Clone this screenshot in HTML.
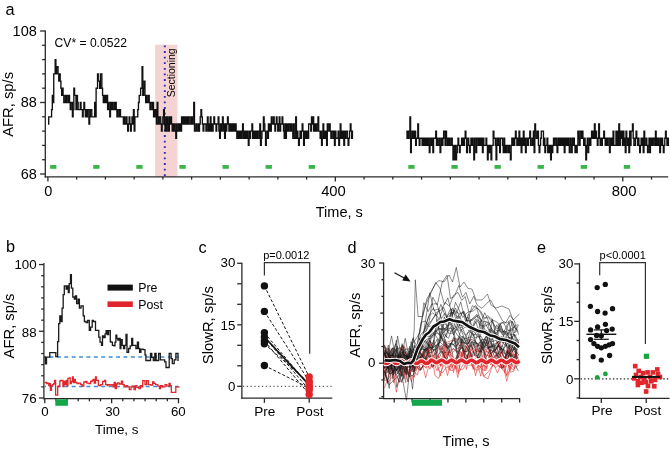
<!DOCTYPE html>
<html><head><meta charset="utf-8"><style>
html,body{margin:0;padding:0;background:#fff;}
svg{display:block;}
text{font-family:"Liberation Sans", sans-serif;}
</style></head><body>
<svg width="670" height="449" viewBox="0 0 670 449">
<rect width="670" height="449" fill="#fff"/>
<g style="will-change:transform">
<text x="5.5" y="14.5" font-size="16.3" text-anchor="start" fill="#000">a</text>
<rect x="155.1" y="44.7" width="22.3" height="132.2" fill="#f6d3d3"/>
<line x1="164.8" y1="45.5" x2="164.8" y2="177" stroke="#2c2cb4" stroke-width="1.9" stroke-dasharray="1.8 3.8"/>
<text x="175.4" y="72.8" font-size="10.5" text-anchor="middle" fill="#000" transform="rotate(-90 175.4 72.8)">Sectioning</text>
<line x1="45.3" y1="30.4" x2="45.3" y2="177.5" stroke="#2a2a2a" stroke-width="1.3"/>
<line x1="44.7" y1="176.9" x2="668.2" y2="176.9" stroke="#2a2a2a" stroke-width="1.3"/>
<line x1="40.1" y1="174" x2="45.3" y2="174" stroke="#2a2a2a" stroke-width="1.3"/>
<line x1="42.1" y1="159.7" x2="45.3" y2="159.7" stroke="#2a2a2a" stroke-width="1.3"/>
<line x1="42.1" y1="145.4" x2="45.3" y2="145.4" stroke="#2a2a2a" stroke-width="1.3"/>
<line x1="42.1" y1="131.1" x2="45.3" y2="131.1" stroke="#2a2a2a" stroke-width="1.3"/>
<line x1="42.1" y1="116.8" x2="45.3" y2="116.8" stroke="#2a2a2a" stroke-width="1.3"/>
<line x1="40.1" y1="102.5" x2="45.3" y2="102.5" stroke="#2a2a2a" stroke-width="1.3"/>
<line x1="42.1" y1="88.2" x2="45.3" y2="88.2" stroke="#2a2a2a" stroke-width="1.3"/>
<line x1="42.1" y1="73.9" x2="45.3" y2="73.9" stroke="#2a2a2a" stroke-width="1.3"/>
<line x1="42.1" y1="59.6" x2="45.3" y2="59.6" stroke="#2a2a2a" stroke-width="1.3"/>
<line x1="42.1" y1="45.3" x2="45.3" y2="45.3" stroke="#2a2a2a" stroke-width="1.3"/>
<line x1="40.1" y1="31" x2="45.3" y2="31" stroke="#2a2a2a" stroke-width="1.3"/>
<line x1="47.9" y1="176.9" x2="47.9" y2="181.6" stroke="#2a2a2a" stroke-width="1.3"/>
<line x1="76.64" y1="176.9" x2="76.64" y2="179.6" stroke="#2a2a2a" stroke-width="1.3"/>
<line x1="105.39" y1="176.9" x2="105.39" y2="179.6" stroke="#2a2a2a" stroke-width="1.3"/>
<line x1="134.13" y1="176.9" x2="134.13" y2="179.6" stroke="#2a2a2a" stroke-width="1.3"/>
<line x1="162.88" y1="176.9" x2="162.88" y2="179.6" stroke="#2a2a2a" stroke-width="1.3"/>
<line x1="191.62" y1="176.9" x2="191.62" y2="179.6" stroke="#2a2a2a" stroke-width="1.3"/>
<line x1="220.36" y1="176.9" x2="220.36" y2="179.6" stroke="#2a2a2a" stroke-width="1.3"/>
<line x1="249.11" y1="176.9" x2="249.11" y2="179.6" stroke="#2a2a2a" stroke-width="1.3"/>
<line x1="277.85" y1="176.9" x2="277.85" y2="179.6" stroke="#2a2a2a" stroke-width="1.3"/>
<line x1="306.6" y1="176.9" x2="306.6" y2="179.6" stroke="#2a2a2a" stroke-width="1.3"/>
<line x1="335.34" y1="176.9" x2="335.34" y2="181.6" stroke="#2a2a2a" stroke-width="1.3"/>
<line x1="364.08" y1="176.9" x2="364.08" y2="179.6" stroke="#2a2a2a" stroke-width="1.3"/>
<line x1="392.83" y1="176.9" x2="392.83" y2="179.6" stroke="#2a2a2a" stroke-width="1.3"/>
<line x1="421.57" y1="176.9" x2="421.57" y2="179.6" stroke="#2a2a2a" stroke-width="1.3"/>
<line x1="450.32" y1="176.9" x2="450.32" y2="179.6" stroke="#2a2a2a" stroke-width="1.3"/>
<line x1="479.06" y1="176.9" x2="479.06" y2="179.6" stroke="#2a2a2a" stroke-width="1.3"/>
<line x1="507.8" y1="176.9" x2="507.8" y2="179.6" stroke="#2a2a2a" stroke-width="1.3"/>
<line x1="536.55" y1="176.9" x2="536.55" y2="179.6" stroke="#2a2a2a" stroke-width="1.3"/>
<line x1="565.29" y1="176.9" x2="565.29" y2="179.6" stroke="#2a2a2a" stroke-width="1.3"/>
<line x1="594.04" y1="176.9" x2="594.04" y2="179.6" stroke="#2a2a2a" stroke-width="1.3"/>
<line x1="622.78" y1="176.9" x2="622.78" y2="181.6" stroke="#2a2a2a" stroke-width="1.3"/>
<line x1="651.52" y1="176.9" x2="651.52" y2="179.6" stroke="#2a2a2a" stroke-width="1.3"/>
<text x="36.8" y="35.9" font-size="14.5" text-anchor="end" fill="#000">108</text>
<text x="36.8" y="107.4" font-size="14.5" text-anchor="end" fill="#000">88</text>
<text x="36.8" y="178.9" font-size="14.5" text-anchor="end" fill="#000">68</text>
<text x="48.4" y="195.6" font-size="14.5" text-anchor="middle" fill="#000">0</text>
<text x="333.5" y="195.9" font-size="14.8" text-anchor="middle" fill="#000">400</text>
<text x="624.2" y="195.9" font-size="14.8" text-anchor="middle" fill="#000">800</text>
<text x="339.3" y="217" font-size="14.5" text-anchor="middle" fill="#000">Time, s</text>
<text x="12.7" y="104.4" font-size="14.8" text-anchor="middle" fill="#000" transform="rotate(-90 12.7 104.4)">AFR, sp/s</text>
<text x="54.6" y="46.6" font-size="12.1" text-anchor="start" fill="#000">CV* = 0.0522</text>
<rect x="50.1" y="165" width="6.3" height="3.8" fill="#3ab54a"/>
<rect x="93.2" y="165" width="6.3" height="3.8" fill="#3ab54a"/>
<rect x="136.3" y="165" width="6.3" height="3.8" fill="#3ab54a"/>
<rect x="179.4" y="165" width="6.3" height="3.8" fill="#3ab54a"/>
<rect x="222.5" y="165" width="6.3" height="3.8" fill="#3ab54a"/>
<rect x="265.6" y="165" width="6.3" height="3.8" fill="#3ab54a"/>
<rect x="308.7" y="165" width="6.3" height="3.8" fill="#3ab54a"/>
<rect x="408.3" y="165" width="6.3" height="3.8" fill="#3ab54a"/>
<rect x="451.4" y="165" width="6.3" height="3.8" fill="#3ab54a"/>
<rect x="494.5" y="165" width="6.3" height="3.8" fill="#3ab54a"/>
<rect x="537.6" y="165" width="6.3" height="3.8" fill="#3ab54a"/>
<rect x="580.7" y="165" width="6.3" height="3.8" fill="#3ab54a"/>
<rect x="623.8" y="165" width="6.3" height="3.8" fill="#3ab54a"/>
<path d="M48 123.95H48.72V116.8H51.59V109.65H52.31V95.35H53.03V102.5H53.74V73.9H55.18V59.6H55.9V73.9H56.62V66.75H58.05V73.9H58.77V81.05H59.49V73.9H60.21V81.05H60.92V88.2H61.64V95.35H62.36V88.2H63.08V95.35H63.8V102.5H65.23V95.35H65.95V102.5H66.67V95.35H68.1V102.5H68.82V95.35H69.54V102.5H70.26V109.65H70.98V102.5H72.41V116.8H73.13V109.65H73.85V88.2H74.57V95.35H76V109.65H76.72V95.35H77.44V102.5H78.16V109.65H80.31V102.5H81.03V109.65H82.46V116.8H83.18V109.65H83.9V102.5H84.62V109.65H85.34V116.8H86.05V109.65H86.77V116.8H87.49V109.65H88.93V123.95H89.64V116.8H90.36V109.65H91.8V116.8H94.67V102.5H95.39V116.8H96.11V88.2H97.54V73.9H98.26V81.05H99.7V88.2H100.41V73.9H101.85V88.2H102.57V95.35H103.29V102.5H104V95.35H104.72V102.5H105.44V95.35H106.16V102.5H106.88V95.35H107.59V109.65H108.31V102.5H109.03V109.65H109.75V116.8H110.47V102.5H111.18V109.65H111.9V102.5H112.62V109.65H114.06V102.5H114.77V109.65H115.49V102.5H116.21V109.65H116.93V116.8H117.65V109.65H119.08V116.8H119.8V109.65H120.52V116.8H123.39V123.95H124.11V116.8H124.83V123.95H126.26V116.8H126.98V123.95H127.7V131.1H128.42V123.95H129.13V116.8H129.85V123.95H130.57V131.1H131.29V123.95H132.01V116.8H132.72V123.95H133.44V109.65H134.16V131.1H134.88V116.8H137.75V109.65H138.47V102.5H139.19V95.35H140.62V88.2H142.06V66.75H142.78V95.35H143.49V88.2H144.21V81.05H144.93V95.35H145.65V102.5H146.37V95.35H147.08V102.5H148.52V95.35H149.24V102.5H149.96V109.65H150.67V102.5H152.11V109.65H152.83V102.5H153.55V116.8H154.26V109.65H154.98V116.8H155.7V109.65H156.42V123.95H157.14V102.5H157.85V116.8H158.57V123.95H159.29V116.8H160.73V123.95H161.44V131.1H162.16V123.95H162.88V116.8H163.6V109.65H164.32V123.95H165.03V131.1H165.75V116.8H166.47V131.1H167.19V116.8H167.91V123.95H168.62V131.1H169.34V116.8H170.06V123.95H170.78V116.8H171.5V123.95H172.21V131.1H172.93V123.95H173.65V131.1H174.37V123.95H175.09V131.1H175.8V138.25H176.52V123.95H177.24V131.1H178.68V123.95H179.39V131.1H180.11V123.95H180.83V131.1H181.55V116.8H182.27V123.95H182.98V116.8H183.7V123.95H184.42V116.8H185.14V123.95H185.86V116.8H186.57V123.95H187.29V116.8H188.01V123.95H188.73V116.8H190.16V123.95H191.6V116.8H192.32V123.95H193.04V116.8H193.75V102.5H194.47V131.1H195.91V123.95H196.63V131.1H198.06V123.95H198.78V131.1H199.5V123.95H200.22V116.8H200.93V109.65H201.65V116.8H202.37V123.95H203.09V131.1H203.81V123.95H205.96V131.1H206.68V123.95H207.4V116.8H208.11V131.1H208.83V123.95H209.55V131.1H210.27V116.8H210.99V131.1H211.7V123.95H212.42V131.1H213.14V123.95H213.86V116.8H214.58V123.95H216.01V131.1H216.73V123.95H218.17V116.8H218.88V131.1H219.6V138.25H220.32V123.95H221.04V131.1H221.76V123.95H222.47V116.8H223.19V131.1H223.91V123.95H224.63V138.25H225.35V123.95H226.06V131.1H226.78V123.95H227.5V116.8H228.22V123.95H228.94V131.1H229.65V123.95H230.37V131.1H231.09V123.95H231.81V131.1H232.53V123.95H233.24V131.1H233.96V123.95H234.68V131.1H235.4V123.95H236.12V131.1H236.83V138.25H237.55V131.1H238.27V138.25H238.99V131.1H239.71V138.25H240.42V131.1H241.14V138.25H241.86V131.1H242.58V123.95H243.3V138.25H244.01V131.1H244.73V138.25H245.45V131.1H246.17V138.25H246.89V131.1H247.6V138.25H248.32V145.4H249.04V131.1H249.76V138.25H250.48V131.1H251.91V123.95H252.63V138.25H253.35V131.1H254.07V138.25H254.78V131.1H255.5V138.25H256.22V131.1H256.94V138.25H257.66V131.1H259.09V138.25H259.81V123.95H260.53V145.4H261.25V138.25H261.96V131.1H263.4V116.8H264.12V123.95H264.84V131.1H265.55V145.4H266.27V138.25H266.99V131.1H267.71V138.25H268.43V123.95H269.14V131.1H269.86V123.95H270.58V131.1H271.3V116.8H272.02V123.95H273.45V116.8H274.17V123.95H274.89V131.1H275.61V123.95H276.32V116.8H277.04V123.95H277.76V131.1H278.48V123.95H279.2V116.8H279.91V131.1H280.63V123.95H282.07V116.8H282.79V123.95H283.5V131.1H284.22V138.25H284.94V123.95H285.66V138.25H286.38V123.95H287.09V131.1H287.81V123.95H288.53V131.1H289.25V123.95H290.68V131.1H291.4V123.95H292.12V131.1H292.84V138.25H293.56V123.95H294.27V138.25H295.71V116.8H296.43V138.25H297.15V131.1H297.86V138.25H298.58V145.4H299.3V138.25H300.02V131.1H300.74V138.25H301.45V131.1H302.17V123.95H302.89V131.1H303.61V145.4H304.33V131.1H305.04V138.25H305.76V131.1H306.48V138.25H307.2V131.1H307.92V138.25H308.63V123.95H310.79V131.1H311.51V116.8H312.22V123.95H312.94V116.8H313.66V131.1H314.38V123.95H315.1V131.1H315.81V123.95H316.53V131.1H317.25V123.95H317.97V116.8H318.69V131.1H320.12V138.25H320.84V131.1H321.56V145.4H322.28V138.25H322.99V123.95H323.71V138.25H324.43V131.1H325.15V138.25H325.87V131.1H326.58V145.4H327.3V123.95H328.74V131.1H329.46V123.95H330.17V131.1H330.89V138.25H331.61V131.1H333.05V138.25H333.76V131.1H334.48V145.4H335.2V131.1H335.92V138.25H338.07V131.1H338.79V145.4H339.51V138.25H340.23V123.95H340.94V138.25H341.66V131.1H342.38V138.25H343.1V131.1H343.82V145.4H344.53V131.1H345.25V138.25H345.97V131.1H347.41V138.25H348.12V145.4H348.84V138.25H349.56V131.1H350.28V123.95H351V131.1H351.71V138.25H352.43V131.1H353.15" fill="none" stroke="#111" stroke-width="1.35"/>
<path d="M406.3 131.1H407.02V138.25H407.74V131.1H408.45V138.25H409.17V131.1H409.89V116.8H410.61V152.55H411.33V138.25H412.04V131.1H412.76V138.25H413.48V131.1H414.2V138.25H414.92V131.1H415.63V145.4H416.35V138.25H417.79V123.95H418.51V138.25H419.22V145.4H419.94V138.25H422.1V145.4H422.81V138.25H423.53V145.4H424.25V138.25H424.97V145.4H425.69V138.25H426.4V145.4H427.12V138.25H427.84V145.4H428.56V138.25H429.28V152.55H429.99V145.4H430.71V138.25H431.43V145.4H432.15V138.25H432.87V152.55H433.58V138.25H435.74V131.1H436.46V145.4H437.17V138.25H437.89V145.4H439.33V138.25H440.05V152.55H440.76V145.4H441.48V138.25H442.2V145.4H442.92V138.25H443.64V131.1H445.07V145.4H445.79V131.1H446.51V138.25H447.23V145.4H447.94V138.25H448.66V145.4H449.38V138.25H450.1V145.4H451.53V138.25H452.25V145.4H452.97V159.7H453.69V145.4H454.41V159.7H455.12V145.4H455.84V159.7H456.56V152.55H457.28V145.4H458V138.25H458.71V145.4H459.43V152.55H460.15V145.4H461.59V138.25H462.3V145.4H463.02V138.25H463.74V145.4H464.46V138.25H465.18V131.1H465.89V138.25H466.61V152.55H467.33V145.4H468.05V138.25H468.77V145.4H469.48V152.55H470.2V145.4H470.92V138.25H471.64V145.4H472.36V138.25H473.07V145.4H473.79V159.7H474.51V138.25H475.95V152.55H476.66V138.25H478.1V145.4H478.82V138.25H479.54V145.4H480.25V138.25H480.97V145.4H481.69V138.25H482.41V152.55H483.13V138.25H483.84V145.4H486V138.25H486.72V145.4H487.43V159.7H488.15V145.4H488.87V152.55H489.59V145.4H490.31V152.55H491.02V159.7H491.74V145.4H493.18V131.1H493.9V138.25H495.33V145.4H496.05V159.7H496.77V138.25H497.49V145.4H498.2V138.25H498.92V145.4H499.64V152.55H500.36V138.25H502.51V145.4H503.23V152.55H503.95V138.25H504.67V152.55H505.38V145.4H506.1V152.55H506.82V145.4H508.26V152.55H508.97V145.4H509.69V152.55H510.41V159.7H511.13V145.4H511.85V138.25H512.56V145.4H513.28V138.25H514V145.4H514.72V138.25H515.44V131.1H516.15V138.25H516.87V145.4H517.59V138.25H518.31V145.4H519.03V131.1H519.74V145.4H520.46V138.25H521.18V152.55H521.9V138.25H522.62V145.4H523.33V131.1H524.05V145.4H524.77V138.25H525.49V152.55H526.21V145.4H526.92V138.25H527.64V145.4H528.36V138.25H529.8V131.1H530.51V145.4H531.95V138.25H532.67V145.4H533.39V131.1H534.1V152.55H534.82V123.95H535.54V131.1H536.26V138.25H537.69V131.1H538.41V145.4H539.13V152.55H539.85V145.4H540.57V138.25H541.28V131.1H543.44V145.4H544.16V138.25H544.87V152.55H545.59V145.4H547.03V138.25H547.75V152.55H548.46V145.4H549.18V152.55H549.9V145.4H550.62V159.7H551.34V145.4H552.05V152.55H552.77V145.4H553.49V138.25H554.21V145.4H554.93V138.25H556.36V145.4H557.08V152.55H557.8V138.25H558.52V145.4H559.23V138.25H559.95V145.4H560.67V138.25H561.39V145.4H562.11V138.25H562.82V145.4H563.54V138.25H564.26V152.55H564.98V138.25H565.7V145.4H566.41V138.25H567.13V145.4H567.85V138.25H568.57V145.4H569.29V152.55H570V138.25H570.72V145.4H571.44V152.55H572.16V138.25H572.88V145.4H573.59V138.25H574.31V145.4H575.03V152.55H575.75V145.4H576.47V152.55H577.18V145.4H577.9V131.1H578.62V138.25H579.34V145.4H580.06V131.1H581.49V138.25H582.21V131.1H582.93V138.25H583.65V145.4H584.36V138.25H585.08V145.4H585.8V159.7H586.52V145.4H587.24V138.25H587.95V152.55H588.67V145.4H589.39V138.25H590.11V145.4H590.83V138.25H591.54V131.1H592.26V138.25H592.98V131.1H593.7V138.25H594.42V123.95H595.13V138.25H595.85V131.1H596.57V138.25H597.29V145.4H598.01V138.25H598.72V123.95H599.44V138.25H600.16V145.4H600.88V138.25H601.6V145.4H602.31V138.25H603.75V131.1H604.47V138.25H605.19V145.4H605.9V138.25H606.62V145.4H607.34V138.25H608.78V145.4H609.49V152.55H610.21V138.25H610.93V145.4H611.65V138.25H612.37V145.4H613.08V131.1H613.8V145.4H615.96V131.1H616.67V145.4H617.39V131.1H618.11V145.4H618.83V123.95H619.55V145.4H620.26V131.1H620.98V138.25H621.7V131.1H622.42V145.4H623.14V131.1H623.85V145.4H624.57V138.25H625.29V152.55H626.01V131.1H626.73V138.25H627.44V145.4H628.16V138.25H628.88V152.55H629.6V131.1H630.32V145.4H631.03V131.1H632.47V123.95H633.19V138.25H633.91V145.4H635.34V138.25H636.06V131.1H636.78V138.25H637.5V145.4H638.21V138.25H638.93V145.4H639.65V152.55H640.37V145.4H641.09V138.25H641.8V145.4H642.52V138.25H643.24V152.55H643.96V131.1H644.68V145.4H646.11V138.25H646.83V145.4H647.55V152.55H648.27V145.4H648.98V138.25H649.7V152.55H650.42V138.25H651.14V145.4H651.86V138.25H652.57V145.4H653.29V138.25H654.73V145.4H655.45V131.1H656.16V145.4H656.88V138.25H657.6V145.4H658.32V138.25H659.04V145.4H659.75V152.55H660.47V138.25H661.19V145.4H661.91V138.25H662.63V145.4H663.34V152.55H664.06V145.4H664.78V138.25H665.5V131.1H666.22V138.25H666.93V145.4H667.65V138.25H668.37V145.4H669.09" fill="none" stroke="#111" stroke-width="1.35"/>
<text x="6" y="252.4" font-size="16.3" text-anchor="start" fill="#000">b</text>
<line x1="43.9" y1="263" x2="43.9" y2="399.2" stroke="#2a2a2a" stroke-width="1.3"/>
<line x1="43.3" y1="398.6" x2="179.2" y2="398.6" stroke="#2a2a2a" stroke-width="1.3"/>
<line x1="39" y1="398" x2="43.9" y2="398" stroke="#2a2a2a" stroke-width="1.3"/>
<line x1="41.2" y1="386.88" x2="43.9" y2="386.88" stroke="#2a2a2a" stroke-width="1.3"/>
<line x1="41.2" y1="375.76" x2="43.9" y2="375.76" stroke="#2a2a2a" stroke-width="1.3"/>
<line x1="41.2" y1="364.64" x2="43.9" y2="364.64" stroke="#2a2a2a" stroke-width="1.3"/>
<line x1="41.2" y1="353.52" x2="43.9" y2="353.52" stroke="#2a2a2a" stroke-width="1.3"/>
<line x1="41.2" y1="342.4" x2="43.9" y2="342.4" stroke="#2a2a2a" stroke-width="1.3"/>
<line x1="39" y1="331.28" x2="43.9" y2="331.28" stroke="#2a2a2a" stroke-width="1.3"/>
<line x1="41.2" y1="320.16" x2="43.9" y2="320.16" stroke="#2a2a2a" stroke-width="1.3"/>
<line x1="41.2" y1="309.04" x2="43.9" y2="309.04" stroke="#2a2a2a" stroke-width="1.3"/>
<line x1="41.2" y1="297.92" x2="43.9" y2="297.92" stroke="#2a2a2a" stroke-width="1.3"/>
<line x1="41.2" y1="286.8" x2="43.9" y2="286.8" stroke="#2a2a2a" stroke-width="1.3"/>
<line x1="41.2" y1="275.68" x2="43.9" y2="275.68" stroke="#2a2a2a" stroke-width="1.3"/>
<line x1="39" y1="264.56" x2="43.9" y2="264.56" stroke="#2a2a2a" stroke-width="1.3"/>
<line x1="44.8" y1="398.6" x2="44.8" y2="403.3" stroke="#2a2a2a" stroke-width="1.3"/>
<line x1="55.94" y1="398.6" x2="55.94" y2="401.3" stroke="#2a2a2a" stroke-width="1.3"/>
<line x1="67.08" y1="398.6" x2="67.08" y2="401.3" stroke="#2a2a2a" stroke-width="1.3"/>
<line x1="78.22" y1="398.6" x2="78.22" y2="401.3" stroke="#2a2a2a" stroke-width="1.3"/>
<line x1="89.36" y1="398.6" x2="89.36" y2="401.3" stroke="#2a2a2a" stroke-width="1.3"/>
<line x1="100.5" y1="398.6" x2="100.5" y2="401.3" stroke="#2a2a2a" stroke-width="1.3"/>
<line x1="111.64" y1="398.6" x2="111.64" y2="403.3" stroke="#2a2a2a" stroke-width="1.3"/>
<line x1="122.78" y1="398.6" x2="122.78" y2="401.3" stroke="#2a2a2a" stroke-width="1.3"/>
<line x1="133.92" y1="398.6" x2="133.92" y2="401.3" stroke="#2a2a2a" stroke-width="1.3"/>
<line x1="145.06" y1="398.6" x2="145.06" y2="401.3" stroke="#2a2a2a" stroke-width="1.3"/>
<line x1="156.2" y1="398.6" x2="156.2" y2="401.3" stroke="#2a2a2a" stroke-width="1.3"/>
<line x1="167.34" y1="398.6" x2="167.34" y2="401.3" stroke="#2a2a2a" stroke-width="1.3"/>
<line x1="178.48" y1="398.6" x2="178.48" y2="403.3" stroke="#2a2a2a" stroke-width="1.3"/>
<text x="36.6" y="268.9" font-size="13.3" text-anchor="end" fill="#000">100</text>
<text x="36.6" y="336.6" font-size="13.3" text-anchor="end" fill="#000">88</text>
<text x="36.6" y="402.8" font-size="13.3" text-anchor="end" fill="#000">76</text>
<text x="44.9" y="416.3" font-size="13.3" text-anchor="middle" fill="#000">0</text>
<text x="112.6" y="416.3" font-size="13.3" text-anchor="middle" fill="#000">30</text>
<text x="178.3" y="416.3" font-size="13.3" text-anchor="middle" fill="#000">60</text>
<text x="116.8" y="434.4" font-size="13.4" text-anchor="middle" fill="#000">Time, s</text>
<text x="13.5" y="326" font-size="14.8" text-anchor="middle" fill="#000" transform="rotate(-90 13.5 326)">AFR, sp/s</text>
<rect x="107.5" y="284.6" width="25.3" height="6" fill="#111"/>
<rect x="107.5" y="301.4" width="25.3" height="5.6" fill="#e0262b"/>
<text x="138.2" y="292.2" font-size="12.3" text-anchor="start" fill="#000">Pre</text>
<text x="138.2" y="309" font-size="12.3" text-anchor="start" fill="#000">Post</text>
<rect x="55.3" y="399.3" width="12.6" height="6.5" fill="#14a64b"/>
<line x1="44.8" y1="356.9" x2="178.5" y2="356.9" stroke="#3a8fd6" stroke-width="1.5" stroke-dasharray="3.9 3.5" stroke-dashoffset="2.7"/>
<line x1="44.8" y1="386.6" x2="178.5" y2="386.6" stroke="#3a8fd6" stroke-width="1.5" stroke-dasharray="3.9 3.5" stroke-dashoffset="2.7"/>
<path d="M44.2 357.2H45.3V363.9H46.5V357.2H49.8V352.7H55.4V352.7H55.8V356.7H57.6V341.6H58.7V323.7H59.8V315.9H60.9V321.5H62.1V308.1H63.2V294.7H64.3V285.8H66.1V289.2H67V285.8H68.3V292.5H69.2V283.6H70.5V274.7H71.4V288.1H72.8V297H74.3V299.2H75.4V295.9H76.6V303.7H78.1V299.2H79.4V308.1H81V305.9H83.2V315.9H84.4V321.5H86.1V322.6H87.7V320.4H89.3V330.4H90.6V327.1H92.2V320.4H93.3V321.5H95.5V330.4H98.8V337.1H100V342.1H101.5V345.3H102.5V335.8H103.8V337.7H105.1V333.9H106.1V330.7H107.4V334.5H108.6V330.7H109.9V330.7H110.3V341.5H110.8V342.1H112.4V345.3H114V345.9H115V342.1H115.9V335.1H116.8V338.3H117.8V340.2H119V338.3H120.1V348.5H120.9V339.6H122.2V345.3H123.5V348.5H124.7V345.3H126V334.5H127V352.3H128.6V348.5H130.2V345.9H131.7V338.3H132.7V345.3H134V345.3H135.9V348.5H137.4V342.1H138.5V348.5H139.6V352.3H140.9V349.1H143.1V349.7H145V354.8H145.9V360.5H148.9V360.5H150.5V353.5H151.8V357.3H153.3V360.5H154.8V353.5H156.1V360.5H158.6V353.5H160.3V359.9H163.2V359.9H164.7V361.8H166V367.5H167.5V367.5H169.2V353.5H171.1V358.6H172.3V363.7H174.2V359.9H175.9V353.5H178V353.5H178V361.1" fill="none" stroke="#1a1a1a" stroke-width="1.3"/>
<path d="M44.6 382.5H46.7V383.6H47.7V383.1H48.8V385.7H49.8V383.6H50.4V390.4H51.4V385.7H52.4V384.6H53.7V383.6H54.5V380.4H55.4V380.4H55.6V395.1H57.5V395.1H57.7V386.7H58.9V385.7H59.8V381H60.8V380.4H62.4V380.4H62.9V386.7H63.9V381.5H65V384.6H66.2V380.4H67.1V385.7H67.9V378.4H69.4V377.8H70.2V383.6H71.3V381.5H72.5V376.8H73.3V382.5H74.4V379.4H75.4V382.5H77V383.6H78.6V383.1H80.7V384.6H82.2V386.2H83.8V382H85.7V381.5H86.9V383.1H89V383.6H90.6V381.5H92.2V380.4H93.2V379.4H94.2V383.1H95.5V376.8H96.3V380.4H98.4V385.7H100.5V384.6H102.6V381.5H104.7V380.4H105.7V384.6H107.3V385.7H108V384.6H109.7V385.1H111.4V384.6H113V386.8H114.2V382.3H115.3V388.5H116.4V384H117.5V382.9H119.2V384H121.4V381.2H122.6V384.6H124.2V386.8H125.9V385.7H127.6V386.8H129.3V389.6H131V386.8H132.6V386.2H134V389.6H135.4V385.7H136.9V387.4H138.8V388.5H140.5V385.7H142.2V386.8H142.7V380.6H143.8V380.6H145V384.6H146.6V380.6H147.8V380.6H148.3V384.6H150.6V385.1H152.6V381.8H153.9V383.4H155.6V384.6H157.8V386.2H159.5V388.5H160.6V385.7H162.3V386.8H163.4V386.8H165.1V384.6H166.8V386.2H169V383.4H170.2V385.7H171.3V392.4H175.2V392.4H175.8V386.8H177.4V386.8H179.1V386.6" fill="none" stroke="#e0262b" stroke-width="1.3"/>
<text x="198.6" y="252.7" font-size="16.3" text-anchor="start" fill="#000">c</text>
<line x1="241.9" y1="262.8" x2="241.9" y2="398.8" stroke="#2a2a2a" stroke-width="1.3"/>
<line x1="241.3" y1="398.2" x2="332.3" y2="398.2" stroke="#2a2a2a" stroke-width="1.3"/>
<line x1="237.2" y1="263.3" x2="241.9" y2="263.3" stroke="#2a2a2a" stroke-width="1.3"/>
<line x1="237.2" y1="283.8" x2="241.9" y2="283.8" stroke="#2a2a2a" stroke-width="1.3"/>
<line x1="237.2" y1="304.3" x2="241.9" y2="304.3" stroke="#2a2a2a" stroke-width="1.3"/>
<line x1="237.2" y1="324.8" x2="241.9" y2="324.8" stroke="#2a2a2a" stroke-width="1.3"/>
<line x1="237.2" y1="345.3" x2="241.9" y2="345.3" stroke="#2a2a2a" stroke-width="1.3"/>
<line x1="237.2" y1="365.8" x2="241.9" y2="365.8" stroke="#2a2a2a" stroke-width="1.3"/>
<line x1="237.2" y1="386.3" x2="241.9" y2="386.3" stroke="#2a2a2a" stroke-width="1.3"/>
<line x1="264.4" y1="398.2" x2="264.4" y2="402.8" stroke="#2a2a2a" stroke-width="1.3"/>
<line x1="309.2" y1="398.2" x2="309.2" y2="402.8" stroke="#2a2a2a" stroke-width="1.3"/>
<text x="235.4" y="266.9" font-size="13.3" text-anchor="end" fill="#000">30</text>
<text x="235.4" y="330.2" font-size="13.3" text-anchor="end" fill="#000">15</text>
<text x="235.4" y="390.9" font-size="13.3" text-anchor="end" fill="#000">0</text>
<text x="264.8" y="415.7" font-size="13.6" text-anchor="middle" fill="#000">Pre</text>
<text x="309.9" y="415.7" font-size="13.6" text-anchor="middle" fill="#000">Post</text>
<text x="213.5" y="325.1" font-size="14.8" text-anchor="middle" fill="#000" transform="rotate(-90 213.5 325.1)">SlowR, sp/s</text>
<line x1="243" y1="386.3" x2="332" y2="386.3" stroke="#333" stroke-width="1.0" stroke-dasharray="1.2 2.6"/>
<text x="286.3" y="258.9" font-size="11.0" text-anchor="middle" fill="#000">p=0.0012</text>
<path d="M264.4 275.5V262.6H309.7V353.8" fill="none" stroke="#333" stroke-width="1.2"/>
<line x1="264.4" y1="285.9" x2="309.2" y2="377" stroke="#111" stroke-width="1.0" stroke-dasharray="3 2"/>
<line x1="264.4" y1="311.4" x2="309.2" y2="381.4" stroke="#111" stroke-width="1.0" stroke-dasharray="3 2"/>
<line x1="264.4" y1="332.8" x2="309.2" y2="385.7" stroke="#111" stroke-width="1.0" stroke-dasharray="3 2"/>
<line x1="264.4" y1="337.1" x2="309.2" y2="390" stroke="#111" stroke-width="1.0" stroke-dasharray="3 2"/>
<line x1="264.4" y1="340.9" x2="309.2" y2="394.4" stroke="#111" stroke-width="1.0" stroke-dasharray="3 2"/>
<line x1="264.4" y1="343.8" x2="309.2" y2="383" stroke="#111" stroke-width="1.0" stroke-dasharray="3 2"/>
<line x1="264.4" y1="365.5" x2="309.2" y2="388" stroke="#111" stroke-width="1.0" stroke-dasharray="3 2"/>
<line x1="264.4" y1="337" x2="309.2" y2="385" stroke="#111" stroke-width="1.8"/>
<circle cx="264.4" cy="285.9" r="3.7" fill="#111"/>
<circle cx="264.4" cy="311.4" r="3.7" fill="#111"/>
<circle cx="264.4" cy="332.8" r="3.7" fill="#111"/>
<circle cx="264.4" cy="337.1" r="3.7" fill="#111"/>
<circle cx="264.4" cy="340.9" r="3.7" fill="#111"/>
<circle cx="264.4" cy="343.8" r="3.7" fill="#111"/>
<circle cx="264.4" cy="365.5" r="3.7" fill="#111"/>
<circle cx="309.2" cy="377" r="3.7" fill="#e0262b"/>
<circle cx="309.2" cy="381.4" r="3.7" fill="#e0262b"/>
<circle cx="309.2" cy="385.7" r="3.7" fill="#e0262b"/>
<circle cx="309.2" cy="390" r="3.7" fill="#e0262b"/>
<circle cx="309.2" cy="394.4" r="3.7" fill="#e0262b"/>
<circle cx="309.2" cy="383" r="3.7" fill="#e0262b"/>
<circle cx="309.2" cy="388" r="3.7" fill="#e0262b"/>
<text x="347.5" y="252.8" font-size="16.3" text-anchor="start" fill="#000">d</text>
<line x1="383.6" y1="262.6" x2="383.6" y2="398.9" stroke="#2a2a2a" stroke-width="1.3"/>
<line x1="383" y1="398.7" x2="520" y2="398.7" stroke="#2a2a2a" stroke-width="1.3"/>
<line x1="379" y1="263" x2="383.6" y2="263" stroke="#2a2a2a" stroke-width="1.3"/>
<line x1="381.4" y1="279.7" x2="383.6" y2="279.7" stroke="#2a2a2a" stroke-width="1.3"/>
<line x1="381.4" y1="296.4" x2="383.6" y2="296.4" stroke="#2a2a2a" stroke-width="1.3"/>
<line x1="380.2" y1="313.1" x2="383.6" y2="313.1" stroke="#2a2a2a" stroke-width="1.3"/>
<line x1="381.4" y1="329.8" x2="383.6" y2="329.8" stroke="#2a2a2a" stroke-width="1.3"/>
<line x1="381.4" y1="346.5" x2="383.6" y2="346.5" stroke="#2a2a2a" stroke-width="1.3"/>
<line x1="379" y1="363.2" x2="383.6" y2="363.2" stroke="#2a2a2a" stroke-width="1.3"/>
<line x1="381.4" y1="379.9" x2="383.6" y2="379.9" stroke="#2a2a2a" stroke-width="1.3"/>
<line x1="381.4" y1="396.6" x2="383.6" y2="396.6" stroke="#2a2a2a" stroke-width="1.3"/>
<line x1="379" y1="398.3" x2="383.6" y2="398.3" stroke="#2a2a2a" stroke-width="1.3"/>
<line x1="394.2" y1="398.3" x2="394.2" y2="402.5" stroke="#2a2a2a" stroke-width="1.3"/>
<line x1="412.12" y1="398.3" x2="412.12" y2="402.5" stroke="#2a2a2a" stroke-width="1.3"/>
<line x1="430.04" y1="398.3" x2="430.04" y2="402.5" stroke="#2a2a2a" stroke-width="1.3"/>
<line x1="447.96" y1="398.3" x2="447.96" y2="402.5" stroke="#2a2a2a" stroke-width="1.3"/>
<line x1="465.88" y1="398.3" x2="465.88" y2="402.5" stroke="#2a2a2a" stroke-width="1.3"/>
<line x1="483.8" y1="398.3" x2="483.8" y2="402.5" stroke="#2a2a2a" stroke-width="1.3"/>
<line x1="501.72" y1="398.3" x2="501.72" y2="402.5" stroke="#2a2a2a" stroke-width="1.3"/>
<line x1="519.64" y1="398.3" x2="519.64" y2="402.5" stroke="#2a2a2a" stroke-width="1.3"/>
<text x="375.3" y="267.8" font-size="13.3" text-anchor="end" fill="#000">30</text>
<text x="375.3" y="367.3" font-size="13.3" text-anchor="end" fill="#000">0</text>
<text x="466.1" y="446" font-size="14.5" text-anchor="middle" fill="#000">Time, s</text>
<text x="359.5" y="325" font-size="14.8" text-anchor="middle" fill="#000" transform="rotate(-90 359.5 325)">AFR, sp/s</text>
<rect x="412" y="399.6" width="30" height="6.2" fill="#14a64b"/>
<line x1="394.5" y1="272.8" x2="405.5" y2="278.8" stroke="#111" stroke-width="1.2"/>
<path d="M410.6 281.4L402.2 280.6L405.6 274.6Z" fill="#111"/>
<path d="M384.5 357.44 L388.51 347.77 L392.88 356.29 L396.13 360.6 L400.84 369.54 L404.04 351.57 L408.04 358.17 L412.94 362.83 L417.77 361.64 L421.94 363.01 L426.83 367.15 L430.79 359.93 L434.04 362.05 L438.14 355.71 L441.76 362.88 L445.78 358.4 L449.5 349.67 L453.71 361.69 L458.06 354.58 L462.81 342.46 L466.23 369.45 L470.71 353.4 L475.59 375.79 L480 357.07 L483.75 376.52 L488.47 371.5 L492.58 365.18 L496.22 364.56 L500.85 367.4 L505.04 361.17 L509.5 366.74 L513.49 369.8 L517.61 361.87" fill="none" stroke="#e02222" stroke-width="0.55"/>
<path d="M384.5 379.01 L388.97 358.74 L392.87 370.57 L396.38 392.17 L400.97 369.76 L405.14 365.71 L409.26 373.92 L414.18 377.28 L417.86 365.1 L422.05 359.13 L426.66 358.93 L431.34 348.61 L435.99 364.75 L440.13 363.28 L443.43 358.9 L448.19 360.61 L452.3 358.41 L456.38 360.69 L460.54 351.33 L464.87 362.98 L468.12 362.2 L471.73 352.75 L476.48 348.49 L481.12 353.46 L484.78 370.48 L489.49 359.14 L492.72 360.55 L495.95 357.76 L499.35 363.65 L503.67 359.81 L507.16 356.07 L511.31 355.65 L515.79 353.6" fill="none" stroke="#e02222" stroke-width="0.55"/>
<path d="M384.5 369.1 L388.04 357.28 L391.43 355.02 L395.01 368.4 L399.3 362.09 L402.53 364.26 L406 363.68 L410.46 367.41 L414.89 368.2 L419.84 363.3 L424.48 366.39 L428.85 361.23 L432.76 366.02 L437.09 362.83 L440.4 365.37 L445.17 341.25 L448.92 355.71 L453.82 364.71 L458.35 364.72 L461.57 357.12 L466.35 346.82 L471.28 356.91 L475.51 353.2 L480.46 347.27 L484.93 367.52 L488.75 360.84 L492.32 364.1 L495.87 367.53 L499.26 363.74 L503.36 366.04 L507.15 349.89 L510.38 372.23 L513.94 371.08 L518.55 341.87" fill="none" stroke="#e02222" stroke-width="0.55"/>
<path d="M384.5 353.04 L389.29 362.78 L393.73 382.96 L397.35 357.47 L401.85 355.53 L406.69 357.26 L410.28 359.12 L414.99 370.58 L418.85 366.2 L423.61 357.61 L427.9 347.91 L431.35 366.89 L435.54 360.8 L438.87 361.11 L443.63 359.01 L447.44 375.62 L451.75 360.71 L455.98 369.08 L459.58 356.96 L464.38 359.08 L468.6 354.7 L472.3 365.67 L476.91 361.48 L481.32 363.09 L484.69 350.64 L487.96 352.02 L491.59 354.51 L495 362.77 L498.5 361.58 L501.88 350.15 L506.72 376.37 L511.56 348.87 L515.29 362.57 L518.67 354.06" fill="none" stroke="#e02222" stroke-width="0.55"/>
<path d="M384.5 372.77 L388.51 359.36 L392.27 353.36 L397.22 362.89 L402.16 365.45 L406.48 366.13 L411.44 381.52 L415.83 366.39 L419.5 369.84 L423.14 365.62 L426.49 368.22 L430.49 343.72 L434.87 375.39 L438.77 378.41 L442.52 367.84 L447.25 359.34 L452.06 367.33 L456.24 359.03 L460.48 369.96 L463.72 368.64 L467.35 357.26 L470.68 361.57 L474.02 369.61 L478.64 370.08 L482.73 362.65 L486.83 368.56 L491.46 349.36 L494.98 356.81 L499.57 351.5 L503.35 366.29 L506.74 381.36 L510.47 366.34 L515.28 354.6 L518.54 352.15" fill="none" stroke="#e02222" stroke-width="0.55"/>
<path d="M384.5 350.63 L388.94 368.97 L392.46 362.08 L396.95 355.87 L401.35 357.85 L406.28 354.87 L410.94 367.33 L415.67 364.8 L419.69 364.67 L423.35 353.71 L426.6 361.23 L430.82 361.32 L434.14 356.75 L437.56 350.2 L441.23 348.92 L445.15 358.01 L449.45 350.43 L453.6 348.73 L457.7 353.47 L462.14 354.25 L466.66 346.41 L470.72 338.81 L474.32 355.85 L479.16 343.5 L484.01 350.72 L487.3 338.99 L490.62 364.89 L494.11 351.42 L498.69 346.18 L503.14 355.71 L507.86 359.94 L512.39 344.36 L516.66 343.45" fill="none" stroke="#e02222" stroke-width="0.55"/>
<path d="M384.5 380.64 L388.09 379.46 L391.39 372.94 L395.81 368.75 L399.94 374.49 L403.44 367.52 L408.4 369.52 L413.06 371.61 L417.9 365.26 L422.83 351.19 L427.54 348.34 L431.93 359.52 L436.79 363.66 L441.74 364.93 L445.72 345.52 L449.22 355.97 L454.05 351.07 L458.98 347.43 L462.92 348.14 L466.33 356.66 L470.88 350 L474.08 352.57 L477.32 348.31 L481.65 366.86 L485.22 364.65 L488.94 361.9 L493.19 358 L496.84 361.91 L501.5 368.76 L506.45 365.32 L511.19 359.77 L515.77 364.13 L519.49 360.89" fill="none" stroke="#e02222" stroke-width="0.55"/>
<path d="M384.5 388.02 L389.07 373.93 L394.02 361.93 L398.25 360.96 L402.01 375.64 L406.16 368.25 L409.37 376.3 L413.11 365 L417.03 358.75 L421.12 369.95 L425.49 361.03 L428.69 353.01 L432.39 367.81 L437.08 363.01 L441.2 345.11 L445.91 352.89 L449.84 352.14 L453.59 372.42 L457.1 356.58 L460.95 355.46 L464.15 355.12 L468.08 344.61 L472.83 360.37 L477.65 356.58 L482.2 363.14 L486.55 350.87 L490.92 357.02 L495.25 357.77 L499.59 340.89 L504.31 358.15 L508.89 349.67 L512.72 363.24 L516.4 358.32" fill="none" stroke="#e02222" stroke-width="0.55"/>
<path d="M384.5 373.11 L388.54 348.17 L393.08 354.67 L397.04 364.56 L400.28 348.1 L404.39 345.78 L408.31 361.44 L412.75 361.7 L416.33 366.29 L421.12 363.56 L425.82 360.34 L429.96 369.17 L434.49 356.75 L437.99 369.87 L442.66 372.76 L446.34 367.36 L450.55 366.63 L454.06 359.59 L457.86 377.53 L461.46 352.02 L466.17 365.83 L469.43 354.96 L473.2 369.29 L477.18 362.29 L480.72 376.09 L485.04 353.24 L489.04 346.19 L493.89 364.6 L497.56 373.17 L501.71 360.65 L506.19 360.16 L510.04 363.18 L514.54 368.67 L519.03 364.41" fill="none" stroke="#e02222" stroke-width="0.55"/>
<path d="M384.5 364.8 L387.8 382.12 L391.39 378.04 L394.65 372.58 L399.59 382.49 L403.89 376.77 L407.3 355.59 L411.75 361.69 L415.84 358.17 L419.72 358.19 L424.4 354.93 L428.43 363.16 L432.92 360.31 L436.71 370.62 L441.7 365.37 L444.98 351.68 L448.76 369.85 L452.65 370.55 L456.57 364.25 L461.35 356.25 L466.2 360.89 L469.43 350.16 L472.73 348.35 L476.61 351.48 L481.32 351.31 L486.15 354.94 L490.87 357.09 L494.14 358.34 L497.51 354.3 L500.76 365.94 L505.19 367.47 L509.92 362.22 L514.25 364.84 L519.2 362.25" fill="none" stroke="#e02222" stroke-width="0.55"/>
<path d="M384.5 365.65 L388.79 370.06 L392.1 364.61 L395.93 365.57 L400.72 358.22 L404.68 367.64 L409.22 371.81 L413.72 360.92 L418.68 364.44 L422.15 344.13 L426.88 361.46 L430.18 341.7 L434.22 344.16 L438.09 348 L442.24 348.93 L446.24 342.38 L450.72 340.95 L455.5 337.88 L458.87 345.69 L463.51 345.86 L467.4 346.92 L471.92 349.86 L476.55 345.24 L481.2 345.42 L485.17 354.59 L488.81 356.19 L492.62 352.72 L497.23 341.5 L500.62 353.84 L504.99 372.37 L509.49 345.14 L514.19 355.29 L519 361.7" fill="none" stroke="#e02222" stroke-width="0.55"/>
<path d="M384.5 371.12 L388.32 368 L392.56 353.34 L396.93 363.54 L400.69 369.75 L404.48 360.39 L409.03 377.32 L412.49 367.58 L417.34 365.62 L420.66 356.4 L425.63 377.87 L430.5 359.34 L435.44 354.37 L440.3 376.13 L444.94 354.6 L449.18 353.61 L454.17 357.85 L458.71 371.54 L462.56 350.55 L466.49 364.23 L470.52 351.57 L474.02 361.77 L477.49 364.31 L482.32 369.49 L485.86 370.88 L489.15 354.6 L492.53 366.48 L495.92 362.64 L499.59 367.13 L502.93 367.76 L506.26 354.95 L509.77 369.76 L514.52 354.36 L519.25 360.45" fill="none" stroke="#e02222" stroke-width="0.55"/>
<path d="M384.5 345.24 L388.47 369.16 L392.88 375.03 L397.52 361.8 L402.03 345.34 L405.69 382.66 L409.25 356.76 L413.38 370.23 L417.45 375.21 L422.08 353.59 L426.34 348.04 L430.36 358.1 L433.9 364.91 L437.11 350.58 L440.53 366.12 L445.07 346.4 L450.02 369.93 L454.21 363.09 L458.36 373.49 L463.28 364.02 L467.21 364.87 L470.95 365.21 L475.07 368.65 L480.02 365.58 L483.52 376.35 L488.04 378.89 L492.26 366.06 L497.15 355.62 L501.96 368.8 L506.82 375.05 L511.55 367.47 L516.18 355.96" fill="none" stroke="#e02222" stroke-width="0.55"/>
<path d="M384.5 374.43 L387.82 371.8 L391.04 359.21 L394.66 369.89 L399.66 382 L403.71 359.73 L408.06 354.95 L412.83 351.73 L416.97 362.04 L420.28 369.61 L424.85 363.29 L428.1 360.86 L432.86 366.84 L437.64 354.92 L442.13 351.23 L446.77 360.04 L450.77 345.19 L454.15 362.44 L457.59 354.06 L461.58 341.5 L465.9 360.16 L469.8 350.77 L473.63 365.33 L478.46 362.57 L482.89 347.19 L487.87 364.07 L492.28 352.3 L497.21 348.28 L502.04 368.35 L505.62 363.61 L510.32 364.23 L513.63 362.02 L518.37 357.17" fill="none" stroke="#141414" stroke-width="0.5"/>
<path d="M384.5 364.56 L389.08 362.18 L393.39 366.44 L396.67 366.05 L401.46 373.09 L406.42 400.41 L410.18 365.51 L413.52 366.33 L417.07 361.93 L421.01 361.86 L424.28 360.14 L429.05 362.49 L433.86 340.15 L437.74 361.36 L442.1 351.4 L446.37 361.87 L451.26 357.26 L455.38 363.59 L459 350.45 L462.75 347.38 L466.93 356.42 L470.15 362.82 L473.39 351.64 L477.7 357.75 L482.03 358.25 L486.07 359.48 L490.54 362.65 L495.07 355.46 L499.48 357.74 L504.42 358.51 L508.69 351.8 L512.46 362.73 L516.33 355.3" fill="none" stroke="#141414" stroke-width="0.5"/>
<path d="M384.5 345.07 L389.02 355.7 L392.78 354.79 L396.41 340.08 L399.95 372.13 L403.33 351.75 L407.11 367.42 L411.1 341.49 L415.84 358.51 L420.21 352.51 L425 359.15 L428.42 351.85 L432.57 347.28 L437.28 339.16 L440.81 352.27 L445.17 339.28 L449.82 352.93 L453.55 348.62 L458.18 352.59 L462.13 346.38 L466.08 364.58 L469.56 345.17 L472.77 340.91 L477.75 358.18 L481.73 340.16 L485.33 358.8 L489.87 349.89 L494 363.13 L497.73 357.93 L501.05 351.94 L505.31 358.83 L508.59 345.21 L513.41 361.9 L518.23 370.87" fill="none" stroke="#141414" stroke-width="0.5"/>
<path d="M384.5 354.26 L388.89 350.79 L393.04 378.56 L397.34 346.03 L401.15 358.56 L405.21 338.33 L409.82 362.22 L413.98 352.92 L418.65 353.3 L423.51 345.73 L428.16 353.01 L432.5 352.22 L437.25 344.91 L440.93 346.86 L445.08 353.4 L449.68 343.63 L452.88 344.37 L456.31 346.92 L459.63 336.27 L462.98 351.08 L467.09 351.99 L470.92 345.33 L475.28 356.22 L478.83 354.76 L482.62 346.51 L487.11 347.32 L490.99 350.12 L494.87 352.32 L499.15 353.66 L503.8 361.75 L508.12 361.93 L512.21 354.47 L516.68 366.31" fill="none" stroke="#141414" stroke-width="0.5"/>
<path d="M384.5 351.54 L387.83 368.32 L392.61 354.12 L397.5 373.98 L402.12 343.72 L405.79 363.93 L410.46 357.77 L414.85 345.42 L419.25 362.56 L423.77 353.64 L428.03 348.78 L431.24 338.63 L434.52 334.76 L437.88 332.92 L441.41 336.32 L444.65 342.6 L449.37 347.64 L453.78 337.4 L458.02 359.41 L462.66 336 L466.78 344.61 L471.27 339.34 L476.15 341.64 L479.46 352.28 L484.15 341.88 L487.79 347.57 L492.09 345.79 L496.65 355.47 L500.57 347.42 L504.4 353.95 L508.5 350.85 L513.45 361.74 L516.94 347.7" fill="none" stroke="#141414" stroke-width="0.5"/>
<path d="M384.5 375.61 L389.32 359.83 L392.78 347.59 L397.63 351.87 L401.77 376.25 L405.3 355.71 L408.98 357.13 L412.75 348.67 L416.37 365.71 L420.1 370.87 L424.57 363.65 L428.82 344.05 L432.5 348.29 L436.56 345.27 L440.45 342.06 L444.23 337.99 L448.83 329.37 L452.89 324.62 L457.17 352.27 L461.85 338.84 L466.05 352 L470.79 341.53 L474.71 345.02 L478.75 360.06 L482.37 343.66 L486.78 335.31 L491.71 343.3 L495.25 350.51 L498.92 343.55 L503.66 338.99 L508.48 349.34 L512.24 336.86 L516.21 350.57" fill="none" stroke="#141414" stroke-width="0.5"/>
<path d="M384.5 367.66 L388.74 363.98 L392.55 364.5 L396.53 370.3 L400.79 362.84 L405.71 373.17 L409.12 355.49 L412.81 365.93 L417.61 360.75 L422.45 341.21 L426.32 342.22 L430.91 347.82 L435.33 350.97 L439.7 341.77 L444.26 346.06 L449.19 342.91 L452.6 344.8 L456.69 342.69 L461.11 329.68 L465.33 335.05 L469.66 331.62 L473.18 333.7 L476.61 347.61 L481.48 339.35 L485.98 339.66 L490.26 353.79 L494.28 349.28 L498.04 346.07 L502.53 346.14 L507.09 359.46 L510.94 353.2 L514.61 360.92 L517.89 343.56" fill="none" stroke="#141414" stroke-width="0.5"/>
<path d="M384.5 368.54 L388.67 354.65 L393.26 375.17 L396.67 347.98 L400.35 359.51 L404.95 360.61 L409.46 360.9 L413.41 357.53 L417.95 349.4 L422.22 356.5 L425.68 345.85 L429.83 335.52 L434.05 332.48 L438.66 329.12 L441.91 329.84 L446.82 347.6 L450.71 343.52 L455.05 338.97 L460.01 339.08 L464.76 342.67 L468.83 346.59 L472.04 344.94 L476.62 343.45 L480.77 346.49 L484.79 338.11 L488.06 334.02 L492.16 346.14 L496.38 348.07 L501.31 340.7 L505.93 346.23 L510.25 339.05 L513.88 343.43 L517.22 360.01" fill="none" stroke="#141414" stroke-width="0.5"/>
<path d="M384.5 372 L389.24 384.86 L393.73 380.02 L398.27 376.49 L403.14 351.3 L407.89 381.96 L411.97 359.92 L415.36 358.82 L418.92 354.51 L422.41 361.3 L426.58 347.68 L430.54 348.1 L434.58 346.54 L439.14 342.62 L443.96 334.28 L448.45 338.3 L452.61 327.56 L456.88 329.94 L460.46 330.11 L465.06 327.34 L468.62 327.07 L472.19 330.39 L475.7 328.67 L478.95 332.18 L483.03 333.7 L486.34 330.13 L490.27 336.98 L494.74 332.94 L498.65 337.99 L501.9 336.47 L505.27 342.62 L509.32 338.14 L513.15 335.99 L516.57 334.76" fill="none" stroke="#141414" stroke-width="0.5"/>
<path d="M384.5 350.57 L388.24 355.74 L392.91 347.87 L397.24 358.24 L401.67 352.07 L406.61 356.46 L409.87 356.22 L413.23 354.43 L416.53 356.93 L420.91 349.06 L425.86 350.27 L429.92 339.86 L434.81 354.45 L438.07 341.88 L442.97 327.82 L446.33 337.4 L449.74 320.31 L453.64 335 L458.51 322.68 L462.03 332.59 L466.73 343.54 L470.93 329.05 L474.87 338.28 L478.49 335.16 L482.17 344.66 L485.68 340.08 L490.16 348.24 L494.05 344.47 L498.53 341.76 L501.77 353.42 L506.19 341.98 L509.57 344.14 L513.92 334.14 L518.7 342.84" fill="none" stroke="#141414" stroke-width="0.5"/>
<path d="M384.5 371.14 L387.83 383.44 L391.22 348.48 L395.44 360.1 L399.81 360.64 L403.44 357.77 L407.8 361.52 L412.06 356.04 L417 356.52 L420.6 357.56 L425.2 348.88 L429.49 340.51 L433.03 347.11 L436.55 326.38 L439.95 328.72 L443.19 328.04 L448 329.99 L451.36 331.47 L456.05 326.66 L460.36 335.78 L465.13 338.91 L468.95 337.28 L472.35 337.04 L477.05 344.06 L480.62 342.06 L484.79 346.87 L488.13 335.67 L491.96 341.62 L496.15 340.3 L500.67 350.11 L504.96 339.1 L508.55 356.91 L512.35 328.83 L516.33 343.19" fill="none" stroke="#141414" stroke-width="0.5"/>
<path d="M384.5 352.98 L389.48 374.19 L393.64 371.55 L397.59 336.02 L402.5 363.46 L406.57 355.02 L411.57 366.66 L416.43 361.98 L419.96 338.17 L423.33 349.45 L427.47 349.74 L431.82 330.7 L435.51 335.37 L439.49 341.06 L444.04 323.53 L447.75 325.6 L451.69 324.27 L455.03 319.44 L459.49 314.3 L464.45 311.74 L468.32 327.42 L471.81 329.5 L475.96 321.51 L480.13 337.21 L483.85 320.84 L487.88 322.92 L491.62 340.28 L495.25 333.54 L498.69 335.73 L502.85 339.86 L506.14 337.98 L509.7 337.3 L514.67 346.73 L519.28 339.39" fill="none" stroke="#141414" stroke-width="0.5"/>
<path d="M384.5 364.04 L387.79 367.95 L391.55 364.96 L395.2 360.34 L398.87 373.57 L402.15 376.42 L406.56 357.66 L411.4 360.97 L414.85 370.74 L419.41 338.75 L424.11 335.64 L428.3 324.27 L431.53 320.53 L435.89 314.35 L439.93 334.64 L444.33 316.88 L448.61 333.43 L452.56 333.18 L456.09 330.61 L460.52 323.23 L464.46 332.54 L468.29 344.04 L472.3 330.81 L477.23 332.09 L481.37 331.6 L485.31 330.05 L490.19 347.84 L494.49 331.14 L498.68 338.7 L502.76 343.11 L507.6 332.6 L510.98 346.19 L515.11 349.52" fill="none" stroke="#141414" stroke-width="0.5"/>
<path d="M384.5 360.04 L388.39 368.63 L393.08 368.82 L397.99 358.32 L402.89 369.71 L406.6 356.48 L410.03 365.64 L413.38 337.55 L416.99 355.77 L421.14 347.7 L425.67 340.3 L430.35 348.22 L433.56 341.12 L436.88 319.4 L440.56 337.49 L444.75 329.05 L448.03 326 L451.49 309.31 L456.32 313.53 L460.73 301.91 L465.1 320.04 L469.67 321.33 L473.18 319.86 L477.96 314.95 L481.25 319.46 L485.13 330.36 L488.53 344.11 L492.23 318.96 L495.67 330.14 L499.5 330.9 L504.35 331.56 L509.24 335.02 L514.23 333.98 L518.07 340.67" fill="none" stroke="#141414" stroke-width="0.5"/>
<path d="M384.5 354.88 L389.05 362.79 L393.65 374.18 L397.82 368.72 L401.82 382.54 L405.38 368.09 L409.65 346.27 L413.17 372 L418.11 348.76 L421.79 346.67 L425.35 321.11 L429.29 326.53 L434.06 325.64 L438.82 320.47 L443.45 306.81 L447.6 318.11 L452.18 312.28 L456.17 315.66 L459.63 325.51 L463.75 325.44 L467.62 325.71 L471.9 318.99 L476.86 314.19 L481.57 332.08 L485.28 323.21 L488.71 329.88 L492.81 330.95 L497.17 337.29 L500.88 325.75 L504.94 335.15 L509.09 321.71 L513.25 349.22 L517.24 338.94" fill="none" stroke="#141414" stroke-width="0.5"/>
<path d="M384.5 369.98 L389.24 388.5 L393.1 348.6 L396.68 387.24 L400.66 373.68 L405.42 369.7 L409.16 376.63 L413.27 375.21 L417.65 349.96 L422.42 348.44 L426.02 342.4 L429.88 338.74 L433.23 334.92 L437.01 329.28 L441.18 323.69 L446.04 331.26 L450.73 319.64 L455.44 308.03 L459.86 317.81 L463.28 310.91 L467.34 321.05 L472.14 319.4 L476.82 316.06 L481.1 320.23 L484.93 322.08 L488.15 321.95 L491.84 328.73 L495.74 333.29 L500.07 328.54 L504.46 332.19 L509.42 330.13 L513.86 326.85 L518.42 330.91" fill="none" stroke="#141414" stroke-width="0.5"/>
<path d="M384.5 380.55 L389.19 351.81 L392.98 373.36 L397.78 355.32 L401.34 365.15 L405.69 359.09 L408.94 350.6 L413.17 366.64 L416.53 347.86 L421.27 322.18 L425.44 321.02 L429.83 292.78 L433.98 310.49 L438.8 308.94 L442.24 324.11 L446.08 318.77 L450.66 308.34 L455.19 327.49 L458.76 315.96 L462.52 321.3 L466.07 322.19 L470.75 330.37 L475.64 318.92 L479.55 321.19 L483.14 331.57 L487.23 332.32 L491.13 328.39 L494.43 346.54 L498.35 341.55 L502 337.46 L505.68 343.51 L509.08 348.35 L512.67 352.04 L516.31 342.98" fill="none" stroke="#141414" stroke-width="0.5"/>
<path d="M384.5 352.55 L388.41 345.14 L392.58 371.59 L396.58 368.19 L399.88 355.53 L403.96 379.4 L408.2 362.55 L412.64 338.77 L416.24 344.46 L420.06 354.25 L425.05 328.11 L429.54 314.04 L433.35 308.09 L436.74 315.69 L440.9 304.35 L445.07 315.75 L449.82 318.38 L454.07 310.28 L458.75 313.35 L463.32 312.89 L467.52 321.24 L472.31 305.7 L476.48 307.63 L481.03 321.95 L484.75 312.68 L489.28 322.98 L493.11 332.95 L496.76 324.85 L501.21 333.11 L504.61 330.77 L508.81 334 L512.32 321.53 L516.23 329.82" fill="none" stroke="#141414" stroke-width="0.5"/>
<path d="M384.5 352.08 L388.06 367.82 L391.44 361.96 L395.61 343.89 L399.74 371.13 L403.65 354.39 L407.42 358.52 L412.32 343.72 L416.37 338.43 L420.35 331.85 L423.89 302.79 L428.12 311.61 L431.72 304.22 L436.69 303.61 L441.52 318.42 L444.9 313.03 L448.5 321.77 L452.52 307.92 L457.1 316.49 L460.59 319.7 L464.71 323.45 L468.58 313.67 L472.69 330.38 L477.12 335.08 L480.79 321.44 L484.97 333.79 L488.25 333.12 L491.76 334.28 L496.32 336.98 L500.43 323.7 L504.94 341.13 L508.81 331.54 L513.35 339.23 L518.21 342.56" fill="none" stroke="#141414" stroke-width="0.5"/>
<path d="M384.5 352.72 L387.97 372.67 L392.26 362.41 L395.75 349.18 L400.54 347.72 L403.99 354.18 L408.6 358.16 L412.5 389.18 L416.8 346.84 L420.48 342.3 L424.18 334.92 L428.64 326.07 L432.77 319.16 L436.56 312.47 L441.21 309.95 L445.11 302.41 L449.51 306.25 L453.3 295.65 L457.94 292.36 L461.76 300.45 L465.13 296.55 L468.9 312.24 L473.18 310.89 L476.9 307.9 L480.71 311.16 L484.26 317.81 L488.83 317.82 L493.11 323.43 L497.25 329.04 L501.22 323.16 L505.85 322.68 L509.95 315.25 L514.2 320.76 L518.52 334.63" fill="none" stroke="#141414" stroke-width="0.5"/>
<path d="M384.5 352.9 L387.92 366.31 L391.57 354.82 L396.43 356.17 L400.48 354.07 L403.69 360.07 L408.52 374.38 L411.81 358.73 L415.86 355.8 L419.6 330.88 L423.93 310.19 L427.28 301 L432.22 290.22 L435.76 282.43 L439.92 288.27 L444.5 304.68 L447.85 297.83 L452.27 315.68 L455.48 302.31 L458.8 309.12 L462.76 317.52 L467.24 312.59 L471.28 311.02 L475.56 305.41 L480.09 311.95 L483.75 319.52 L487.6 315.74 L491.97 319.3 L496.03 336.53 L499.59 323.5 L503.22 322.23 L507.47 329.78 L511 330.9 L514.38 326.26 L518.04 324.52" fill="none" stroke="#141414" stroke-width="0.5"/>
<path d="M384.5 346.68 L389.05 358.4 L392.91 363.68 L396.5 370.35 L400.11 357.96 L404.47 349.54 L408.98 348.87 L413.04 352.08 L416.92 354.95 L420.48 335.17 L424.39 330.41 L429.24 321.25 L432.79 297.3 L437.27 305.09 L442.23 282.39 L447.05 275.13 L450.47 298.43 L454.2 296.7 L458.94 285.48 L462.4 297.1 L465.99 292.44 L469.76 303.88 L473.76 296.24 L476.99 304.8 L481.9 308.39 L486.85 303.29 L490.56 299.99 L494.2 306.91 L497.8 311.79 L502.62 320.86 L506.42 323 L510.6 320.04 L514.8 332.98 L518.54 324.81" fill="none" stroke="#141414" stroke-width="0.5"/>
<path d="M384.5 350.39 L388.07 353.99 L391.55 335.93 L396.39 361.54 L400.59 349.39 L403.9 350.19 L408.72 358.06 L413.63 349.04 L417.19 355.07 L421.58 359.4 L424.98 349.9 L428.8 357.1 L433.18 355.53 L436.6 352.9 L440.83 336.06 L444.65 345.53 L448.16 347.9 L451.93 342.56 L456.11 348.89 L459.83 340.03 L463.91 342.57 L468.49 351.17 L472.56 342.24 L477.28 343.1 L481.35 352.01 L486.07 341.91 L489.94 351.53 L493.16 343.47 L497.34 356.08 L501.36 348.34 L505.41 350.78 L510.37 354.61 L513.78 348.51 L518.41 354.75" fill="none" stroke="#141414" stroke-width="0.5"/>
<path d="M384.5 345.42 L389.46 373.93 L392.76 360.45 L397.32 353.72 L401.33 357.67 L406.33 374.85 L410.75 348.05 L414.09 365.92 L418.9 348.44 L423.59 341.65 L427.3 339.08 L430.88 338.1 L435.36 330.1 L440.25 336.43 L443.84 341.69 L448.15 349.46 L452.73 340.44 L456.28 341.66 L460.44 336.91 L464.7 342.75 L468.13 338.49 L472.27 348.71 L476.68 337.02 L481.32 336.67 L486.06 346.05 L489.56 341.13 L494.38 352.24 L498.51 344.63 L502.97 350.09 L507.55 343.17 L512.15 349.8 L517.02 347.45" fill="none" stroke="#141414" stroke-width="0.5"/>
<path d="M384.5 361.75 L387.88 352.44 L391.71 363.09 L396.62 361.05 L400.99 369.62 L405.27 351.58 L409.58 367.59 L413.67 355.03 L418.36 349.79 L422.1 338.02 L426.83 336.57 L430.82 336.07 L435.31 333.98 L438.74 327.97 L442.96 329.75 L446.48 327.18 L450.03 320.48 L454.25 330.28 L457.97 335.74 L462.38 340.55 L465.58 338.5 L468.87 329.88 L473.49 336.15 L477.81 330.37 L482.07 348.96 L486.2 337.3 L490.02 331.27 L493.87 336.61 L498.04 341.4 L501.3 341.29 L504.79 332.61 L509.03 337.22 L512.66 347.36 L515.98 354.84" fill="none" stroke="#141414" stroke-width="0.5"/>
<path d="M384.5 368.01 L389.25 358.92 L393.93 371.31 L397.9 369.04 L402.36 345.22 L407.08 358.28 L411.95 370.72 L416.91 359.86 L420.59 342.04 L424.11 330.28 L428.75 316.32 L432.66 312.87 L437.44 316.48 L442.16 327.63 L445.44 319.2 L449.41 313.32 L453.82 312.67 L458.69 328.34 L463.14 326.72 L467.69 316.99 L472.36 327.89 L476.66 320.32 L480.28 325.3 L484.64 326.25 L488.72 324.19 L492.77 320.01 L497.7 322.41 L502.47 335.24 L507.26 324.53 L511.96 321.24 L516.95 332.07" fill="none" stroke="#141414" stroke-width="0.5"/>
<path d="M384.5 368.07 L388.73 353.78 L392.48 366.45 L397.31 363.2 L401.52 366.42 L405.5 365.62 L409.21 367.54 L414.18 345.4 L417.88 363.49 L421.43 353.63 L425.8 359.94 L429.39 346.84 L433.26 350.27 L437.52 348.64 L442.07 334.31 L447.04 328.12 L451.94 328.49 L456.33 345.89 L459.58 341.83 L464.21 343.14 L467.97 344.02 L472.28 333.84 L475.95 334.81 L480.82 339.21 L485.38 349.62 L489.28 347.64 L494.02 345.76 L498.59 346.27 L503.27 350.35 L506.49 355.31 L509.8 352.39 L513.76 343.81 L517.52 357.35" fill="none" stroke="#141414" stroke-width="0.5"/>
<path d="M384.5 355 L388 348 L392 356 L396 350 L400 358 L404 347 L408 355 L412 349 L414.2 330 L415.3 279.8 L418.1 316.5 L422.8 316.5 L426.8 299 L432 290 L436 283 L439 280.5 L444 282 L449 275 L452.5 282 L456.3 267.5 L460 287 L464 282 L468 288.5 L472 289 L476 300 L482 300 L487.5 294 L491 305 L496 308 L502 306 L509 309 L513 320 L519.5 314" fill="none" stroke="#1a1a1a" stroke-width="0.5"/>
<path d="M384.5 362.6 L386 363.44 L387.5 363.25 L389 362.2 L390.5 361.15 L392 360.96 L393.5 361.8 L395 362.96 L396.5 363.5 L398 362.96 L399.5 361.8 L401 360.96 L402.5 361.15 L404 362.2 L405.5 363.25 L407 363.44 L408.5 362.6 L410 361.44 L411.5 360.9 L413 361.44 L414.5 362.6 L416 363.44 L417.5 363.25 L419 362.2 L420.5 361.15 L422 360.96 L423.5 361.8 L425 362.96 L426.5 363.5 L428 362.96 L429.5 361.8 L431 360.16 L432.5 360.35 L434 361.4 L435.5 362.45 L437 362.64 L438.5 361.8 L440 360.64 L441.5 360.1 L443 360.64 L444.5 361.8 L446 362.64 L447.5 362.45 L449 361.4 L450.5 360.35 L452 360.16 L453.5 361 L455 362.16 L456.5 362.7 L458 362.16 L459.5 361 L461 360.16 L462.5 360.35 L464 361.4 L465.5 362.45 L467 362.64 L468.5 361.8 L470 360.64 L471.5 360.1 L473 360.64 L474.5 361.8 L476 362.64 L477.5 362.45 L479 361.4 L480.5 360.35 L482 360.16 L483.5 361 L485 362.16 L486.5 362.7 L488 362.16 L489.5 361 L491 360.16 L492.5 360.35 L494 361.4 L495.5 362.45 L497 362.64 L498.5 361.8 L500 360.64 L501.5 360.1 L503 360.64 L504.5 361.8 L506 362.64 L507.5 362.45 L509 361.4 L510.5 360.35 L512 360.16 L513.5 361 L515 362.16 L516.5 362.7 L518 362.16 L519.5 361" fill="none" stroke="#fff" stroke-width="5.6" stroke-linejoin="round"/>
<path d="M384.5 362.6 L386 363.44 L387.5 363.25 L389 362.2 L390.5 361.15 L392 360.96 L393.5 361.8 L395 362.96 L396.5 363.5 L398 362.96 L399.5 361.8 L401 360.96 L402.5 361.15 L404 362.2 L405.5 363.25 L407 363.44 L408.5 362.6 L410 361.44 L411.5 360.9 L413 361.44 L414.5 362.6 L416 363.44 L417.5 363.25 L419 362.2 L420.5 361.15 L422 360.96 L423.5 361.8 L425 362.96 L426.5 363.5 L428 362.96 L429.5 361.8 L431 360.16 L432.5 360.35 L434 361.4 L435.5 362.45 L437 362.64 L438.5 361.8 L440 360.64 L441.5 360.1 L443 360.64 L444.5 361.8 L446 362.64 L447.5 362.45 L449 361.4 L450.5 360.35 L452 360.16 L453.5 361 L455 362.16 L456.5 362.7 L458 362.16 L459.5 361 L461 360.16 L462.5 360.35 L464 361.4 L465.5 362.45 L467 362.64 L468.5 361.8 L470 360.64 L471.5 360.1 L473 360.64 L474.5 361.8 L476 362.64 L477.5 362.45 L479 361.4 L480.5 360.35 L482 360.16 L483.5 361 L485 362.16 L486.5 362.7 L488 362.16 L489.5 361 L491 360.16 L492.5 360.35 L494 361.4 L495.5 362.45 L497 362.64 L498.5 361.8 L500 360.64 L501.5 360.1 L503 360.64 L504.5 361.8 L506 362.64 L507.5 362.45 L509 361.4 L510.5 360.35 L512 360.16 L513.5 361 L515 362.16 L516.5 362.7 L518 362.16 L519.5 361" fill="none" stroke="#e0262b" stroke-width="3.6" stroke-linejoin="round"/>
<path d="M385 360.3 L390 360.6 L395 360 L400 361 L404 364 L408 362.8 L411 363.2 L413.4 360.5 L417.4 349 L422.8 339 L426 334.5 L429 332.5 L433.5 326.5 L437 324.5 L440.2 322 L444 321.5 L449.5 319.2 L453 320.5 L457.5 321.3 L462 322 L468.2 326.2 L473 328.5 L478.9 331.2 L484 332 L489.6 335.2 L495 336.5 L500.3 339.2 L506 340 L511 341.9 L515 343.5 L519 347.2" fill="none" stroke="#fff" stroke-width="4.6" stroke-linejoin="round"/>
<path d="M385 360.3 L390 360.6 L395 360 L400 361 L404 364 L408 362.8 L411 363.2 L413.4 360.5 L417.4 349 L422.8 339 L426 334.5 L429 332.5 L433.5 326.5 L437 324.5 L440.2 322 L444 321.5 L449.5 319.2 L453 320.5 L457.5 321.3 L462 322 L468.2 326.2 L473 328.5 L478.9 331.2 L484 332 L489.6 335.2 L495 336.5 L500.3 339.2 L506 340 L511 341.9 L515 343.5 L519 347.2" fill="none" stroke="#111" stroke-width="2.7" stroke-linejoin="round"/>
<text x="537" y="252.5" font-size="16.3" text-anchor="start" fill="#000">e</text>
<line x1="579.5" y1="263.2" x2="579.5" y2="398.9" stroke="#2a2a2a" stroke-width="1.3"/>
<line x1="578.9" y1="398.3" x2="669.5" y2="398.3" stroke="#2a2a2a" stroke-width="1.3"/>
<line x1="574.2" y1="263.9" x2="579.5" y2="263.9" stroke="#2a2a2a" stroke-width="1.3"/>
<line x1="576.6" y1="283.05" x2="579.5" y2="283.05" stroke="#2a2a2a" stroke-width="1.3"/>
<line x1="576.6" y1="302.2" x2="579.5" y2="302.2" stroke="#2a2a2a" stroke-width="1.3"/>
<line x1="574.2" y1="321.35" x2="579.5" y2="321.35" stroke="#2a2a2a" stroke-width="1.3"/>
<line x1="576.6" y1="340.5" x2="579.5" y2="340.5" stroke="#2a2a2a" stroke-width="1.3"/>
<line x1="576.6" y1="359.65" x2="579.5" y2="359.65" stroke="#2a2a2a" stroke-width="1.3"/>
<line x1="574.2" y1="378.8" x2="579.5" y2="378.8" stroke="#2a2a2a" stroke-width="1.3"/>
<line x1="576.6" y1="397.95" x2="579.5" y2="397.95" stroke="#2a2a2a" stroke-width="1.3"/>
<line x1="601.3" y1="398.3" x2="601.3" y2="403" stroke="#2a2a2a" stroke-width="1.3"/>
<line x1="646.2" y1="398.3" x2="646.2" y2="403" stroke="#2a2a2a" stroke-width="1.3"/>
<text x="573.3" y="267.9" font-size="13.3" text-anchor="end" fill="#000">30</text>
<text x="573.3" y="325.8" font-size="13.3" text-anchor="end" fill="#000">15</text>
<text x="573.3" y="383.8" font-size="13.3" text-anchor="end" fill="#000">0</text>
<text x="602" y="415.3" font-size="13.6" text-anchor="middle" fill="#000">Pre</text>
<text x="647.6" y="415.3" font-size="13.6" text-anchor="middle" fill="#000">Post</text>
<text x="552.5" y="325.1" font-size="14.8" text-anchor="middle" fill="#000" transform="rotate(-90 552.5 325.1)">SlowR, sp/s</text>
<line x1="580.5" y1="378.8" x2="670" y2="378.8" stroke="#222" stroke-width="1.3" stroke-dasharray="1.4 2.2"/>
<text x="622.7" y="258.9" font-size="11.0" text-anchor="middle" fill="#000">p&lt;0.0001</text>
<path d="M599.7 275.3V262.6H645.4V344" fill="none" stroke="#333" stroke-width="1.2"/>
<circle cx="590.4" cy="306.3" r="2.65" fill="#111"/>
<circle cx="597.6" cy="311.5" r="2.65" fill="#111"/>
<circle cx="605.1" cy="313.1" r="2.65" fill="#111"/>
<circle cx="612.5" cy="308.7" r="2.65" fill="#111"/>
<circle cx="597.6" cy="326.9" r="2.65" fill="#111"/>
<circle cx="605.4" cy="324.3" r="2.65" fill="#111"/>
<circle cx="590.6" cy="329.9" r="2.65" fill="#111"/>
<circle cx="612.2" cy="329.1" r="2.65" fill="#111"/>
<circle cx="606.6" cy="330.6" r="2.65" fill="#111"/>
<circle cx="596.6" cy="335.4" r="2.65" fill="#111"/>
<circle cx="601.3" cy="335.8" r="2.65" fill="#111"/>
<circle cx="590.6" cy="339.6" r="2.65" fill="#111"/>
<circle cx="593.9" cy="343.6" r="2.65" fill="#111"/>
<circle cx="597.6" cy="346.3" r="2.65" fill="#111"/>
<circle cx="601.3" cy="347.8" r="2.65" fill="#111"/>
<circle cx="605.4" cy="346.3" r="2.65" fill="#111"/>
<circle cx="609.1" cy="344.8" r="2.65" fill="#111"/>
<circle cx="612.5" cy="343.6" r="2.65" fill="#111"/>
<circle cx="593.1" cy="356.7" r="2.65" fill="#111"/>
<circle cx="601.3" cy="360.1" r="2.65" fill="#111"/>
<circle cx="609.6" cy="355.5" r="2.65" fill="#111"/>
<circle cx="597.2" cy="287.6" r="2.65" fill="#111"/>
<circle cx="605.3" cy="284.4" r="2.65" fill="#111"/>
<circle cx="597.3" cy="377.3" r="2.4" fill="#1aa33d"/>
<circle cx="605.4" cy="373.9" r="2.4" fill="#1aa33d"/>
<line x1="586.4" y1="334.3" x2="616.3" y2="334.3" stroke="#111" stroke-width="1.4"/>
<line x1="593.9" y1="329.9" x2="608.8" y2="329.9" stroke="#111" stroke-width="1.2"/>
<line x1="593.9" y1="339.3" x2="608.8" y2="339.3" stroke="#111" stroke-width="1.2"/>
<line x1="601.3" y1="329.9" x2="601.3" y2="339.3" stroke="#111" stroke-width="1.2"/>
<rect x="632.9" y="363.8" width="4.6" height="4.6" fill="#e0262b"/>
<rect x="655" y="367.1" width="4.6" height="4.6" fill="#e0262b"/>
<rect x="636.4" y="368.6" width="4.6" height="4.6" fill="#e0262b"/>
<rect x="640.8" y="370.8" width="4.6" height="4.6" fill="#e0262b"/>
<rect x="645.3" y="370.1" width="4.6" height="4.6" fill="#e0262b"/>
<rect x="650.5" y="370.1" width="4.6" height="4.6" fill="#e0262b"/>
<rect x="655.7" y="371.6" width="4.6" height="4.6" fill="#e0262b"/>
<rect x="631.9" y="376.1" width="4.6" height="4.6" fill="#e0262b"/>
<rect x="635.6" y="379" width="4.6" height="4.6" fill="#e0262b"/>
<rect x="639.3" y="380.5" width="4.6" height="4.6" fill="#e0262b"/>
<rect x="643.8" y="379.8" width="4.6" height="4.6" fill="#e0262b"/>
<rect x="649" y="379" width="4.6" height="4.6" fill="#e0262b"/>
<rect x="652.8" y="377.6" width="4.6" height="4.6" fill="#e0262b"/>
<rect x="652" y="384" width="4.6" height="4.6" fill="#e0262b"/>
<rect x="635.6" y="382.7" width="4.6" height="4.6" fill="#e0262b"/>
<rect x="643.8" y="389.2" width="4.6" height="4.6" fill="#e0262b"/>
<rect x="638.7" y="374.7" width="4.6" height="4.6" fill="#e0262b"/>
<rect x="647.7" y="374.7" width="4.6" height="4.6" fill="#e0262b"/>
<rect x="641.7" y="376.7" width="4.6" height="4.6" fill="#e0262b"/>
<rect x="645.7" y="383.7" width="4.6" height="4.6" fill="#e0262b"/>
<rect x="633.7" y="372.7" width="4.6" height="4.6" fill="#e0262b"/>
<rect x="657.7" y="374.7" width="4.6" height="4.6" fill="#e0262b"/>
<rect x="643.8" y="353.7" width="5.2" height="5.2" fill="#1aa33d"/>
<line x1="632" y1="376.9" x2="660.3" y2="376.9" stroke="#111" stroke-width="2"/>
</g>
</svg></body></html>
